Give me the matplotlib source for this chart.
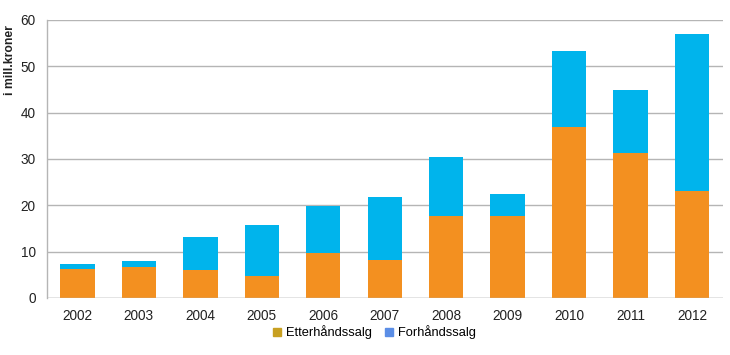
import matplotlib
matplotlib.use("Agg")
import matplotlib.pyplot as plt
from matplotlib.patches import Patch
import numpy as np

years = ["2002", "2003", "2004", "2005", "2006", "2007", "2008", "2009", "2010", "2011", "2012"]
etterhand = [6.3, 6.6, 6.1, 4.7, 9.7, 8.3, 17.8, 17.8, 36.8, 31.2, 23.0]
forhand = [1.05, 1.45, 7.0, 11.1, 10.1, 13.4, 12.7, 4.6, 16.4, 13.7, 34.0]
yticks = [0, 10, 20, 30, 40, 50, 60]

plt.rcParams['font.family'] = ['Liberation Sans', 'DejaVu Sans']

fig = plt.figure(figsize=(7.3, 3.55), dpi=100)
ax = fig.add_axes([0.064, 0.1606, 0.926, 0.7831])

x = np.arange(len(years))
w = 0.56
ax.bar(x, etterhand, width=w, color="#F39020", zorder=3)
ax.bar(x, forhand, width=w, bottom=etterhand, color="#00B4EC", zorder=3)

ax.set_xlim(-0.5, len(years) - 0.5)
ax.set_ylim(0, 60)
ax.set_yticks(yticks)
ax.set_xticks(x)
ax.set_xticklabels(years)
ax.tick_params(axis='both', length=0, labelsize=9.8, colors="#222222")
ax.tick_params(axis='x', pad=8)
ax.tick_params(axis='y', pad=8)
ax.grid(axis='y', color="#B5B5B5", linewidth=1.0, zorder=0)
for s in ["top", "right", "bottom"]:
    ax.spines[s].set_visible(False)
ax.spines["left"].set_color("#B5B5B5")
ax.spines["left"].set_linewidth(1.0)
ax.axhline(0, color="#B5B5B5", linewidth=1.0, zorder=4)

fig.text(0.014, 0.83, "i mill.kroner", rotation=90, ha="center", va="center",
         fontsize=8.8, fontweight="bold", color="#222222")

handles = [Patch(color="#C8A021", label="Etterhåndssalg"),
           Patch(color="#5B8EE6", label="Forhåndssalg")]
fig.legend(handles=handles, loc="center", bbox_to_anchor=(0.513, 0.064), ncol=2,
           frameon=False, fontsize=9.3, handlelength=0.6, handleheight=0.6,
           handletextpad=0.4, columnspacing=1.0)

fig.savefig("out.png", dpi=100)
